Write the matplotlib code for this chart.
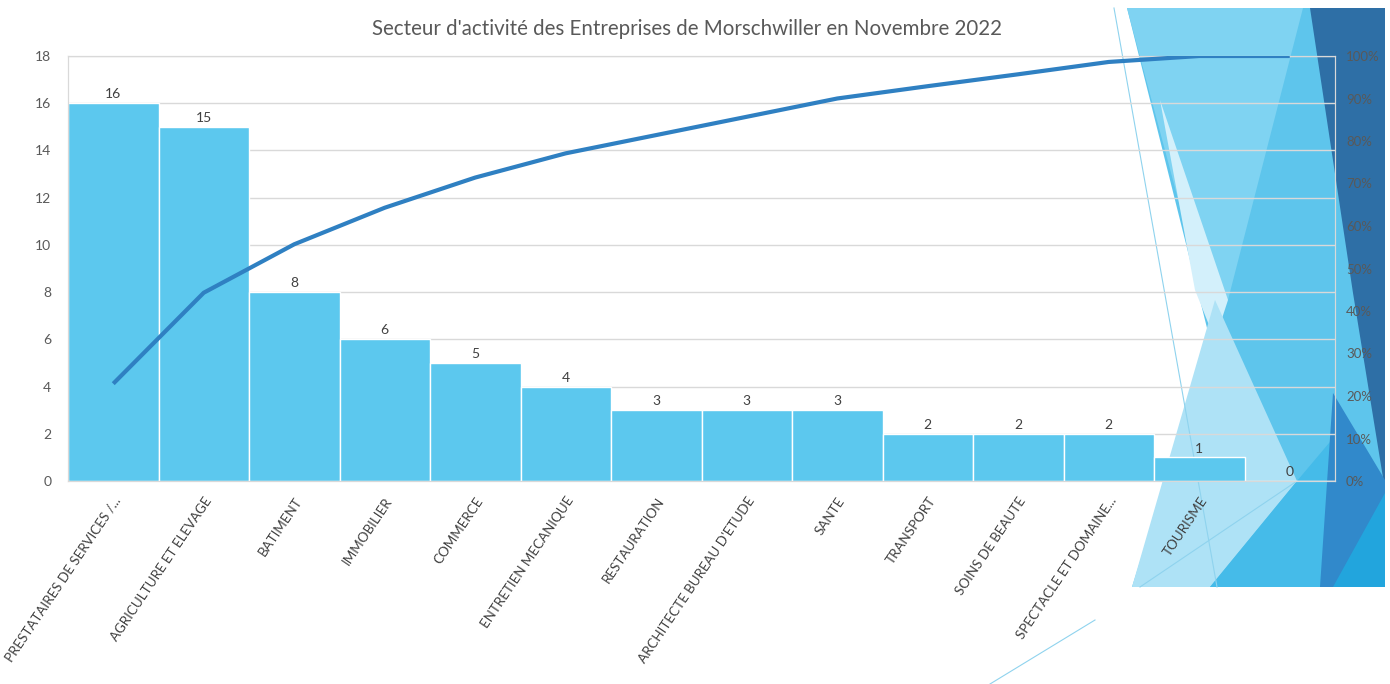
import matplotlib

matplotlib.use("Agg")

import matplotlib.pyplot as plt
from matplotlib.patches import Polygon
from matplotlib.lines import Line2D
from matplotlib.ticker import FuncFormatter

plt.rcParams["font.family"] = ["Lato", "DejaVu Sans"]

# Données
secteurs = [
    "PRESTATAIRES DE SERVICES /...",
    "AGRICULTURE ET ELEVAGE",
    "BATIMENT",
    "IMMOBILIER",
    "COMMERCE",
    "ENTRETIEN MECANIQUE",
    "RESTAURATION",
    "ARCHITECTE BUREAU D'ETUDE",
    "SANTE",
    "TRANSPORT",
    "SOINS DE BEAUTE",
    "SPECTACLE ET DOMAINE...",
    "TOURISME",
    "",
]
nb_entreprises = [16, 15, 8, 6, 5, 4, 3, 3, 3, 2, 2, 2, 1, 0]
cumul_pct = [22.9, 44.3, 55.7, 64.3, 71.4, 77.1, 81.4, 85.7, 90.0, 92.9, 95.7, 98.6, 100.0, 100.0]

W, H = 1390, 684
fig = plt.figure(figsize=(W / 100, H / 100), dpi=100)
fig.patch.set_facecolor("white")


def px(points):
    # pixels (origine en haut à gauche) -> fraction de figure
    return [(x / W, 1 - y / H) for x, y in points]


# décor du thème (triangles bleus à droite)
decor = [
    ([(1127, 8), (1385, 8), (1385, 587), (1132, 587), (1210, 340)], "#5EC5EC"),
    ([(1127, 8), (1303, 8), (1228, 300), (1205, 300)], "#7FD3F2"),
    ([(1160, 100), (1228, 300), (1215, 340), (1195, 290)], "#D3F0FB"),
    ([(1132, 587), (1215, 300), (1297, 481), (1210, 587)], "#AEE2F6"),
    ([(1297, 481), (1340, 430), (1330, 587), (1210, 587)], "#45BBE9"),
    ([(1310, 8), (1385, 8), (1385, 490), (1353, 293)], "#2E6FA6"),
    ([(1333, 393), (1385, 480), (1385, 587), (1320, 587)], "#3189CB"),
    ([(1385, 493), (1385, 587), (1333, 587)], "#22A5DD"),
]
for pts, col in decor:
    fig.add_artist(Polygon(px(pts), closed=True, facecolor=col, edgecolor="none",
                           transform=fig.transFigure, zorder=-2))
for pts in [[(1114, 8), (1217, 587)], [(1297, 481), (1140, 587)], [(1095, 620), (990, 684)]]:
    xs, ys = zip(*px(pts))
    fig.add_artist(Line2D(xs, ys, color="#8FD3EE", lw=0.8, transform=fig.transFigure, zorder=-1))

ax = fig.add_axes([68 / W, 1 - 481 / H, (1335 - 68) / W, (481 - 56) / H])
ax.set_facecolor("none")
x = range(len(secteurs))
barres = ax.bar(x, nb_entreprises, width=1.0, color="#5CC8EE", edgecolor="white", linewidth=1, zorder=2)
for xi, v in zip(x, nb_entreprises):
    ax.text(xi, v + 0.12, str(v), ha="center", va="bottom", fontsize=10, color="#404040", zorder=4)

ax.set_xlim(-0.5, len(secteurs) - 0.5)
ax.set_ylim(0, 18)
ax.set_yticks(range(0, 19, 2))
ax.grid(axis="y", color="#D9D9D9", lw=1, zorder=0)
ax.set_axisbelow(True)
ax.set_xticks(list(x))
ax.set_xticklabels(secteurs, rotation=56, ha="right", va="top", rotation_mode="anchor",
                   fontsize=9.6, color="#404040")
ax.tick_params(axis="x", length=0, pad=10)
ax.tick_params(axis="y", length=0, labelsize=10, labelcolor="#595959", pad=12)
for s in ax.spines.values():
    s.set_color("#D9D9D9")

ax2 = ax.twinx()
ax2.set_facecolor("none")
ax2.plot(list(x), cumul_pct, color="#2F80C2", lw=3, zorder=3, solid_capstyle="butt")
ax2.set_ylim(0, 100)
ax2.set_yticks(range(0, 101, 10))
ax2.yaxis.set_major_formatter(FuncFormatter(lambda v, p: f"{int(v)}%"))
ax2.tick_params(axis="y", length=0, labelsize=9.5, labelcolor="#595959", pad=8)
for s in ax2.spines.values():
    s.set_color("#D9D9D9")

fig.text(687 / W, 1 - 29 / H, "Secteur d'activité des Entreprises de Morschwiller en Novembre 2022",
         ha="center", va="center", fontsize=14.8, color="#595959")

fig.savefig("out.png", dpi=100)
